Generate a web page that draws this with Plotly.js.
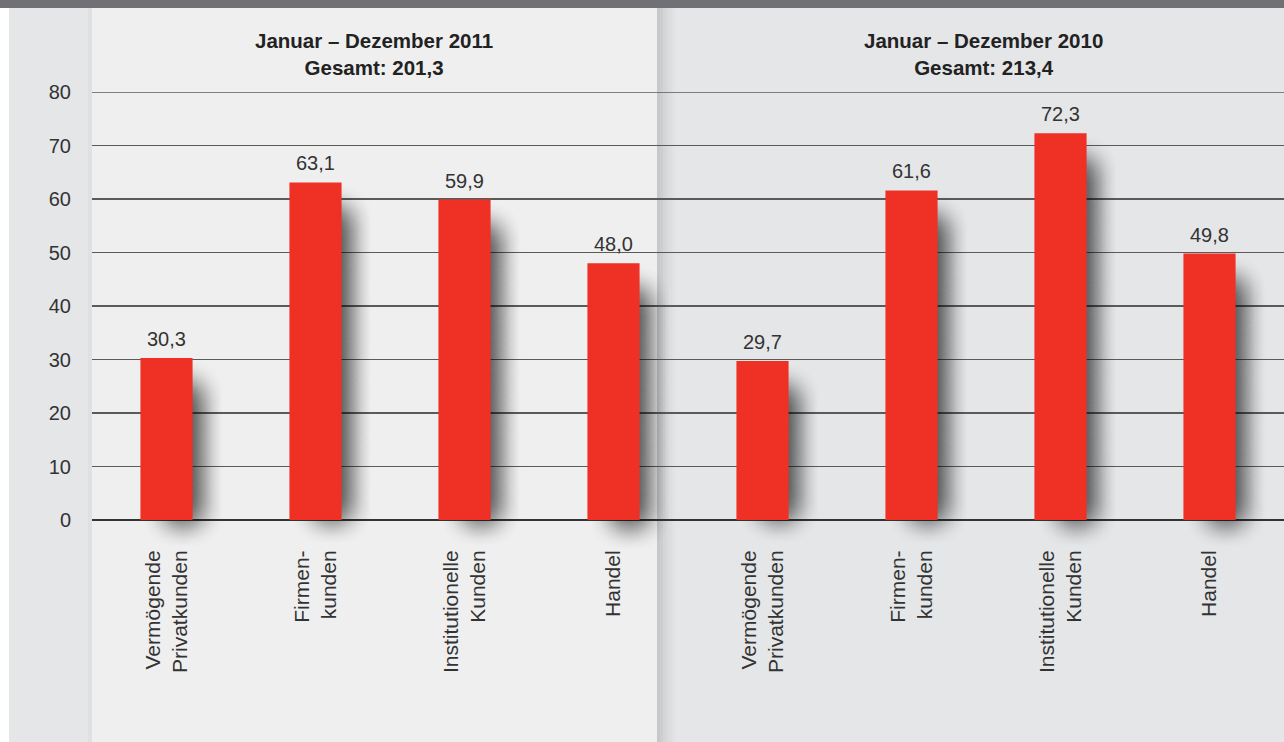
<!DOCTYPE html>
<html><head><meta charset="utf-8">
<script src="https://cdn.plot.ly/plotly-3.0.1.min.js"></script>
<style>html,body{margin:0;padding:0;background:#fff}#chart{width:1284px;height:742px}</style>
</head><body><div id="chart"></div>
<script>
const categories = ["Vermögende<br>Privatkunden","Firmen-<br>kunden","Institutionelle<br>Kunden","Handel",
                    "Vermögende<br>Privatkunden","Firmen-<br>kunden","Institutionelle<br>Kunden","Handel"];
const values2011 = [30.3, 63.1, 59.9, 48.0];
const values2010 = [29.7, 61.6, 72.3, 49.8];
const labels2011 = ["30,3","63,1","59,9","48,0"];
const labels2010 = ["29,7","61,6","72,3","49,8"];
const panelTitles = ["<b>Januar – Dezember 2011</b><br><b>Gesamt: 201,3</b>",
                     "<b>Januar – Dezember 2010</b><br><b>Gesamt: 213,4</b>"];
const yTicks = [0,10,20,30,40,50,60,70,80];

const values = values2011.concat(values2010);
const labels = labels2011.concat(labels2010);
const xs = values.map((v,i)=>i);
const FONT = "Liberation Sans, Arial, Helvetica, sans-serif";
const BW = 0.35;

// soft drop shadows built from the bar values (radial-gradient markers), drawn behind the bars
const shX = [], shY = [];
values.forEach((v,i)=>{
  [0.04, 0.11, 0.18].forEach(dx=>{
    for (let y = v-6; y >= -3.2; y -= 1.4) { shX.push(i+dx); shY.push(y); }
  });
});
const traces = [];
traces.push({type:'scatter', mode:'markers', x:shX, y:shY, xaxis:'x', yaxis:'y', cliponaxis:false, hoverinfo:'skip', showlegend:false,
  marker:{size:60, color:'rgba(0,0,0,0)', line:{width:0},
    gradient:{type:'radial', color:'rgba(0,0,0,0.10)'}}});
traces.push({type:'bar', x:xs, y:values, width:BW, xaxis:'x2', yaxis:'y2', marker:{color:'#ee3124', line:{width:0}},
  hoverinfo:'skip', showlegend:false});

const shapes = [];
const pw = 1192, L = 92;
const px = p => (p - L)/pw;
shapes.push({type:'rect', xref:'paper', yref:'paper', x0:px(9), x1:px(92), y0:-0.6, y1:1.3, fillcolor:'#e5e6e8', line:{width:0}, layer:'below'});
shapes.push({type:'rect', xref:'paper', yref:'paper', x0:px(88), x1:px(92), y0:-0.6, y1:1.3, fillcolor:'#dfe0e2', line:{width:0}, layer:'below'});
shapes.push({type:'rect', xref:'paper', yref:'paper', x0:px(92), x1:px(657), y0:-0.6, y1:1.3, fillcolor:'#efefef', line:{width:0}, layer:'below'});
shapes.push({type:'rect', xref:'paper', yref:'paper', x0:px(657), x1:px(1284), y0:-0.6, y1:1.3, fillcolor:'#e5e6e8', line:{width:0}, layer:'below'});
const sh = [0.13,0.10,0.07,0.05,0.03,0.015];
sh.forEach((o,k)=>{
  shapes.push({type:'rect', xref:'paper', yref:'paper', x0:px(657+k*3), x1:px(660+k*3), y0:-0.6, y1:1.3, fillcolor:'rgba(0,0,0,'+o+')', line:{width:0}, layer:'below'});
});
// top gridline at the last tick
shapes.push({type:'line', xref:'paper', yref:'y', x0:0, x1:1, y0:yTicks[yTicks.length-1], y1:yTicks[yTicks.length-1], line:{color:'#5a5a5a', width:1.3}, layer:'below'});
// top dark band
shapes.push({type:'rect', xref:'paper', yref:'paper', x0:px(0), x1:px(1284), y0:1+(92-8)/428, y1:1+92/428, fillcolor:'#707075', line:{width:0}, layer:'above'});

const annotations = [
  {xref:'paper', yref:'paper', x:px(374), y:1+(92-54)/428, text:panelTitles[0], showarrow:false,
    xanchor:'center', yanchor:'middle', font:{family:FONT, size:20.5, color:'#222'}},
  {xref:'paper', yref:'paper', x:px(983), y:1+(92-54)/428, text:panelTitles[1], showarrow:false,
    xanchor:'center', yanchor:'middle', font:{family:FONT, size:20.5, color:'#222'}}
];
values.forEach((v,i)=>{
  annotations.push({xref:'x', yref:'y', x:xs[i], y:v, text:labels[i], showarrow:false, xanchor:'center', yanchor:'bottom', yshift:6,
    font:{family:FONT, size:20, color:'#333'}});
});

const layout = {
  width:1284, height:742,
  margin:{l:92, r:0, t:92, b:222},
  paper_bgcolor:'#ffffff', plot_bgcolor:'rgba(0,0,0,0)',
  font:{family:FONT, color:'#333'},
  showlegend:false,
  xaxis:{range:[-0.5,7.5], tickmode:'array', tickvals:xs, ticktext:categories, tickangle:-90,
    tickfont:{family:FONT, size:21, color:'#333'}, showgrid:false, zeroline:false, showline:false,
    ticks:'outside', ticklen:21, tickcolor:'rgba(0,0,0,0)', fixedrange:true},
  yaxis:{range:[0,80], tickmode:'array', tickvals:yTicks, showgrid:true, gridcolor:'#5a5a5a', gridwidth:1.3,
    zeroline:true, zerolinecolor:'#333', zerolinewidth:1.5, showline:false,
    tickfont:{family:FONT, size:20, color:'#333'}, ticks:'outside', ticklen:16, tickcolor:'rgba(0,0,0,0)', fixedrange:true},
  xaxis2:{overlaying:'x', range:[-0.5,7.5], visible:false, fixedrange:true},
  yaxis2:{overlaying:'y', range:[0,80], visible:false, fixedrange:true},
  shapes:shapes,
  annotations:annotations
};
Plotly.newPlot('chart', traces, layout, {displayModeBar:false, staticPlot:true});
</script></body></html>
